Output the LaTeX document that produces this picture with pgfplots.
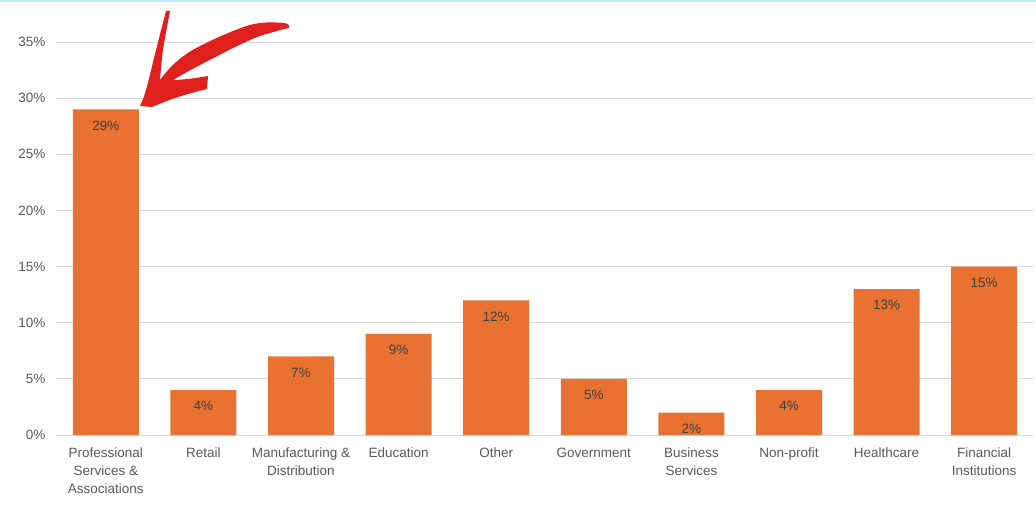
\documentclass[border=0pt]{standalone}
\usepackage{pgfplots}
\pgfplotsset{compat=1.18}
\usepackage{fontspec}
\setmainfont{Liberation Sans}
\definecolor{barorange}{HTML}{E97132}
\definecolor{gridgray}{HTML}{D9D9D9}
\definecolor{labgray}{HTML}{595959}
\definecolor{valgray}{HTML}{404040}
\definecolor{arrowred}{HTML}{E0201C}
\begin{document}
\begin{tikzpicture}[x=1pt,y=1pt]
\path[use as bounding box] (-57,-69) rectangle (979,435);
\fill[white] (-57,-69) rectangle (979,435);
\draw[color=cyan!25, line width=1.5pt] (-57,434) -- (979,434);
\begin{axis}[
  at={(0,0)}, anchor=south west,
  scale only axis,
  width=976pt, height=393pt,
  xmin=-0.5, xmax=9.5,
  ymin=0, ymax=35,
  ytick={0,5,...,35},
  yticklabel={\pgfmathprintnumber{\tick}\%},
  ymajorgrids,
  grid style={gridgray, line width=0.8pt},
  axis line style={draw=none},
  tick style={draw=none},
  xtick=data,
  xticklabels={{Professional\\Services \&\\Associations},Retail,{Manufacturing \&\\Distribution},Education,Other,Government,{Business\\Services},Non-profit,Healthcare,{Financial\\Institutions}},
  xticklabel style={align=center, font=\fontsize{13.5}{18}\selectfont, text=labgray, anchor=north, yshift=-5pt},
  yticklabel style={font=\fontsize{13.5}{15}\selectfont, text=labgray, xshift=-8pt},
  /pgf/number format/assume math mode=true,
  ybar, bar width=66pt,
  nodes near coords={\pgfmathprintnumber{\pgfplotspointmeta}\%},
  nodes near coords style={font=\fontsize{13.5}{15}\selectfont, text=valgray, anchor=north, yshift=-8pt},
  clip=false,
]
\addplot[fill=barorange, draw=none] coordinates {
(0,29) (1,4) (2,7) (3,9) (4,12) (5,5) (6,2) (7,4) (8,13) (9,15)
};
\end{axis}
\begin{scope}[shift={(-57,435)}, yscale=-1]
\fill[arrowred]
  plot[smooth, tension=0.6] coordinates {(166,11) (156,50) (146,90) (140,106)}
  -- (152,107)
  -- plot[smooth, tension=0.6] coordinates {(152,107) (178,97) (207,89)}
  -- (208,76)
  -- plot[smooth, tension=0.6] coordinates {(208,76) (188,79) (173,80)}
  -- plot[smooth, tension=0.6] coordinates {(173,80) (200,65) (250,40) (277,31) (289,28)}
  -- plot[smooth, tension=0.6] coordinates {(289,28) (284,23) (250,25) (200,46) (175,63) (160,80)}
  -- plot[smooth, tension=0.6] coordinates {(160,80) (163,50) (170,11)}
  -- cycle;
\end{scope}
\end{tikzpicture}
\end{document}
